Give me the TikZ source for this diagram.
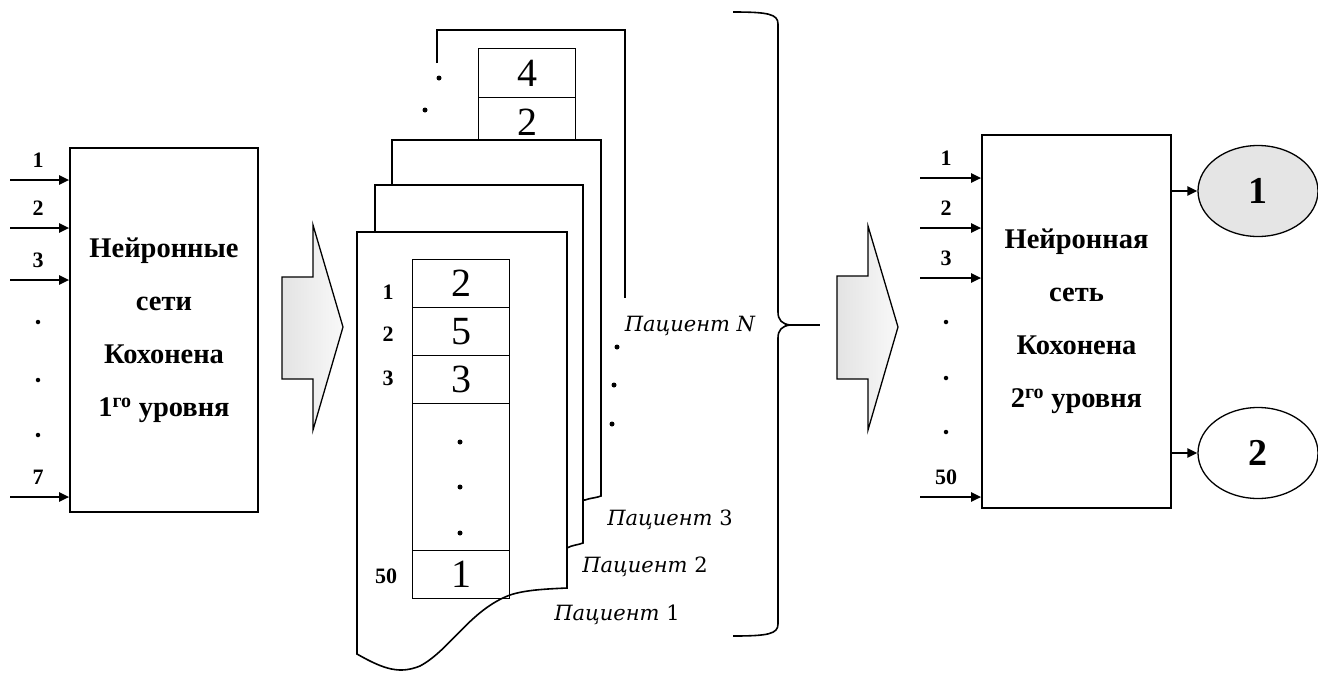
\documentclass[tikz,border=0pt]{standalone}
\usepackage{fontspec}
\setmainfont{Liberation Serif}
\newfontfamily\patfont{DejaVu Serif}
\usetikzlibrary{arrows.meta,shapes.geometric}
\begin{document}
\begin{tikzpicture}[x=1pt,y=-1pt,
  box/.style={draw,line width=1.6pt,align=center,inner sep=0pt,font=\bfseries\fontsize{28.5}{53}\selectfont},
  inarr/.style={line width=2.2pt,-{Triangle[length=10pt,width=9pt]}},
  lbl/.style={font=\bfseries\fontsize{22}{24}\selectfont,inner sep=0pt},
  dotn/.style={circle,fill,inner sep=0pt,minimum size=5pt},
  sheet/.style={draw,line width=1.6pt,fill=white},
  cell/.style={draw,line width=1.3pt,minimum width=97pt,minimum height=48pt,inner sep=0pt,anchor=north west,font=\fontsize{40}{42}\selectfont},
  pat/.style={font=\patfont\itshape\fontsize{21}{24}\selectfont,inner sep=0pt},
  barrow/.style={draw,line width=1.3pt,left color=gray!22,right color=gray!5},
  oval/.style={draw,line width=1.3pt,ellipse,minimum width=120pt,minimum height=91pt,font=\bfseries\fontsize{38}{40}\selectfont},
]
\useasboundingbox (0,0) rectangle (1318,673);

% ---------- first Kohonen block ----------
\node[box,minimum width=188pt,minimum height=364pt] (k1) at (164,330)
  {Нейронные\\сети\\Кохонена\\1\textsuperscript{го} уровня};
\foreach \yy/\l in {180/1,228/2,280/3,497/7}{
  \coordinate (a\l) at (10,\yy);
  \draw[inarr] (a\l) -- (a\l -| k1.west);
  \node[lbl] (la\l) at (38,\yy-20) {\l};
}
\foreach \yy [count=\i] in {322,380,435}{
  \node[dotn,minimum size=4.5pt] (da\i) at (38,\yy) {};
}

% ---------- block arrow 1 ----------
\draw[barrow] (282,277) -- (313,277) -- (313,225) -- (343,327) -- (313,430) -- (313,379) -- (282,379) -- cycle;

% ---------- sheet N (partially visible) ----------
\draw[line width=1.6pt] (437,63) -- (437,30) -- (625,30) -- (625,298);
\node[cell,minimum height=49pt] (n1) at (478,48) {4};
\node[cell,minimum height=49pt] (n2) at (478,97) {2};
\foreach \xx/\yy [count=\i] in {439/78,425/110,410/142}{
  \node[dotn] (ds\i) at (\xx,\yy) {};
}

% ---------- sheet 3 ----------
\path[sheet] (392,499) -- (392,140) -- (601,140) -- (601,496)
  .. controls (596,498) and (590,498) .. (585,500) -- (392,500) -- cycle;
% ---------- sheet 2 ----------
\path[sheet] (375,547) -- (375,185) -- (583,185) -- (583,543)
  .. controls (578,545) and (572,545) .. (567,548) -- (375,548) -- cycle;
% ---------- sheet 1 ----------
\path[sheet] (357,654) -- (357,232) -- (567,232) -- (567,588)
  .. controls (545,589) and (525,590) .. (510,595)
  .. controls (470,610) and (450,650) .. (420,666)
  .. controls (400,674) and (385,670) .. cycle;

% ---------- table of patient 1 ----------
\node[cell] (c1) at (412,259) {2};
\node[cell] (c2) at (412,307) {5};
\node[cell] (c3) at (412,355) {3};
\node[cell,minimum height=147pt] (c4) at (412,403) {};
\node[cell] (c5) at (412,550) {1};
\foreach \yy [count=\i] in {442,487,533}{
  \node[dotn] (dc\i) at (460,\yy) {};
}
\node[lbl] (r1) at (388,292) {1};
\node[lbl] (r2) at (388,334) {2};
\node[lbl] (r3) at (388,378) {3};
\node[lbl] (r50) at (386,576) {50};

% ---------- patient labels ----------
\node[pat] (pN) at (690,326) {Пациент N};
\node[dotn] (dp1) at (617,347) {};
\node[dotn] (dp2) at (614,385) {};
\node[dotn] (dp3) at (612,424) {};
\node[pat] (p3) at (670,520) {Пациент \upshape 3};
\node[pat] (p2) at (645,567) {Пациент \upshape 2};
\node[pat] (p1) at (617,615) {Пациент \upshape 1};

% ---------- brace ----------
\draw[line width=1.6pt] (733,12) .. controls (768,12) and (778,14) .. (778,24) -- (778,312)
  .. controls (778,320) and (782,324) .. (790,325);
\draw[line width=1.6pt] (790,325) .. controls (782,326) and (778,330) .. (778,338) -- (778,624)
  .. controls (778,634) and (768,636) .. (733,636);
\draw[line width=1.3pt] (785,325) -- (820,325);

% ---------- block arrow 2 ----------
\draw[barrow] (837,276) -- (868,276) -- (868,226) -- (898,327) -- (868,430) -- (868,379) -- (837,379) -- cycle;

% ---------- second Kohonen block ----------
\node[box,minimum width=189pt,minimum height=373pt] (k2) at (1076.5,321.5)
  {Нейронная\\сеть\\Кохонена\\2\textsuperscript{го} уровня};
\foreach \yy/\l in {178/1,228/2,278/3,497/50}{
  \coordinate (b\l) at (920,\yy);
  \draw[inarr] (b\l) -- (b\l -| k2.west);
  \node[lbl] (lb\l) at (946,\yy-20) {\l};
}
\foreach \yy [count=\i] in {322,378,432}{
  \node[dotn,minimum size=4.5pt] (db\i) at (946,\yy) {};
}

% ---------- outputs ----------
\node[oval,fill=gray!20] (o1) at (1258,191) {1};
\node[oval] (o2) at (1258,453) {2};
\draw[inarr] (k2.east |- o1) -- (o1.west);
\draw[inarr] (k2.east |- o2) -- (o2.west);
\end{tikzpicture}
\end{document}
